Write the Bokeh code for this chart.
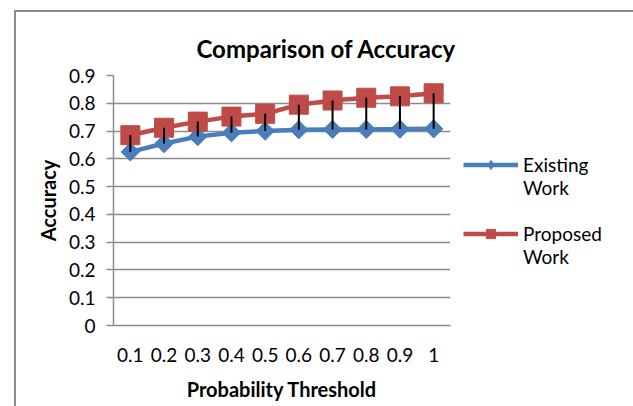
from bokeh.plotting import figure
from bokeh.embed import file_html
from bokeh.resources import INLINE
from bokeh.models import (Legend, LegendItem, FixedTicker,
                          CustomJSTickFormatter, ColumnDataSource)

thresholds = ["0.1", "0.2", "0.3", "0.4", "0.5", "0.6", "0.7", "0.8", "0.9", "1"]
existing = [0.625, 0.655, 0.680, 0.694, 0.700, 0.705, 0.706, 0.706, 0.707, 0.708]
proposed = [0.685, 0.712, 0.734, 0.752, 0.762, 0.795, 0.810, 0.820, 0.825, 0.836]
y_ticks = [0, 0.1, 0.2, 0.3, 0.4, 0.5, 0.6, 0.7, 0.8, 0.9]
series_names = ["Existing", "Proposed"]
series_suffix = "Work"

BLUE = "#4A7EBB"
RED = "#BE4B48"
GRAY = "#8C8C8C"
FONT = "Lato"

p = figure(x_range=thresholds, y_range=(0, 0.9),
           width=613, height=394, frame_width=337, frame_height=250,
           min_border_left=97, min_border_right=179, min_border_top=63, min_border_bottom=81,
           output_backend="svg", toolbar_location=None,
           title="Comparison of Accuracy")
p.margin = (10, 0, 0, 14)
p.styles = {"border-left": "2px solid #8C8C8C", "border-right": "2px solid #8C8C8C",
            "border-top": "2px solid #8C8C8C"}
p.background_fill_color = "white"
p.border_fill_color = "white"
p.outline_line_color = None

p.title.text_font = FONT
p.title.text_font_size = "24px"
p.title.text_font_style = "bold"
p.title.text_color = "black"
p.title.align = "left"
p.title.offset = 83
p.title.standoff = 26

# axes
p.xgrid.grid_line_color = None
p.ygrid.grid_line_color = GRAY
p.ygrid.grid_line_width = 1.5
p.yaxis.ticker = FixedTicker(ticks=y_ticks)
p.yaxis.formatter = CustomJSTickFormatter(code="return tick.toFixed(1).replace(/\\.0$/, '')")
for ax in (p.xaxis[0], p.yaxis[0]):
    ax.axis_line_color = GRAY
    ax.axis_line_width = 1.5
    ax.major_label_text_font = FONT
    ax.major_label_text_font_size = "19px"
    ax.major_label_text_color = "black"
    ax.axis_label_text_font = FONT
    ax.axis_label_text_font_size = "20px"
    ax.axis_label_text_font_style = "bold"
    ax.axis_label_text_color = "black"
    ax.minor_tick_line_color = None
p.yaxis.major_tick_line_color = GRAY
p.yaxis.major_tick_line_width = 1.5
p.yaxis.major_tick_out = 7
p.yaxis.major_tick_in = 0
p.yaxis.major_label_standoff = 11
p.yaxis.axis_label = "Accuracy"
p.yaxis.axis_label_standoff = 6
p.xaxis.major_tick_line_color = None
p.xaxis.major_label_standoff = 16
p.xaxis.axis_label = "Probability Threshold"
p.xaxis.axis_label_standoff = 12

src = ColumnDataSource(dict(x=thresholds, e=existing, pr=proposed))

le = p.line("x", "e", source=src, line_color=BLUE, line_width=4.5)
p.scatter("x", "e", source=src, marker="square", angle=0.785398, size=13,
          fill_color=BLUE, line_color=BLUE)
lp = p.line("x", "pr", source=src, line_color=RED, line_width=4.5)
p.scatter("x", "pr", source=src, marker="square", size=19,
          fill_color=RED, line_color=RED)
p.segment(x0="x", y0="e", x1="x", y1="pr", source=src, line_color="black", line_width=2)

# legend-only glyphs (hidden on the plot, drawn in the legend)
le_leg = p.scatter("x", "e", source=src, marker="diamond", size=12,
                   fill_color=BLUE, line_color=BLUE, visible=False)
lp_leg = p.scatter("x", "pr", source=src, marker="square", size=11,
                   fill_color=RED, line_color=RED, visible=False)
blank = p.scatter("x", "e", source=src, size=1, fill_alpha=0, line_alpha=0, visible=False)

legend = Legend(items=[LegendItem(label=series_names[0], renderers=[le, le_leg]),
                       LegendItem(label=series_suffix, renderers=[blank]),
                       LegendItem(label=" ", renderers=[blank]),
                       LegendItem(label=series_names[1], renderers=[lp, lp_leg]),
                       LegendItem(label=series_suffix, renderers=[blank])],
                location=(13, 57), orientation="vertical",
                glyph_width=55, glyph_height=23, label_standoff=5,
                label_height=23, spacing=0, padding=0, margin=0,
                border_line_color=None, background_fill_alpha=0,
                label_text_font=FONT, label_text_font_size="19px",
                label_text_color="black")
p.add_layout(legend, "right")

open("out.html", "w").write(file_html(p, INLINE))
